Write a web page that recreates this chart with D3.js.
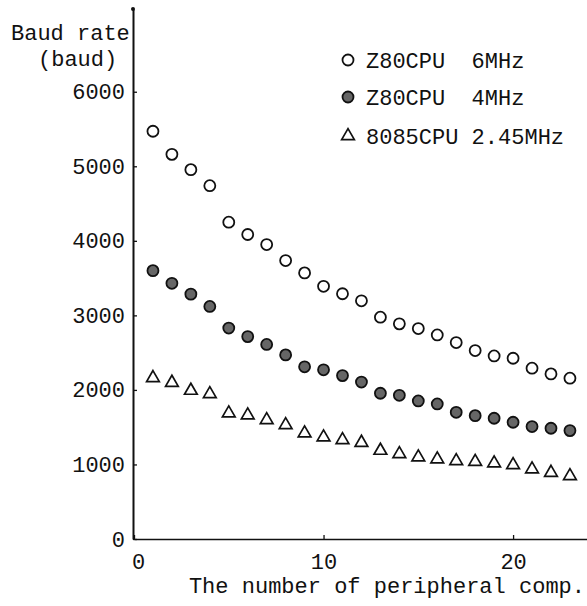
<!DOCTYPE html>
<html>
<head>
<meta charset="utf-8">
<script src="https://cdn.jsdelivr.net/npm/d3@7"></script>
<style>
  html, body { margin: 0; padding: 0; background: #fff; }
  svg text { font-family: "Liberation Mono", "DejaVu Sans Mono", monospace; fill: #111; }
</style>
</head>
<body>
<svg id="chart" width="587" height="606"></svg>
<script>
// ---- data ----
const xValues = [1,2,3,4,5,6,7,8,9,10,11,12,13,14,15,16,17,18,19,20,21,22,23];
const z80_6MHz = [5470,5160,4955,4740,4250,4085,3950,3735,3570,3390,3290,3195,2976,2886,2823,2738,2635,2528,2456,2425,2291,2215,2157];
const z80_4MHz = [3600,3430,3285,3120,2830,2715,2610,2470,2310,2270,2192,2105,1955,1928,1852,1812,1700,1655,1620,1566,1508,1486,1454];
const i8085_245MHz = [2161,2098,1991,1946,1687,1660,1597,1530,1419,1365,1329,1293,1186,1141,1097,1070,1047,1037,1016,993,936,890,846];
const xTicks = [0, 10, 20];
const yTicks = [0, 1000, 2000, 3000, 4000, 5000, 6000];
const legendLabels = ["Z80CPU  6MHz", "Z80CPU  4MHz", "8085CPU 2.45MHz"];

const svg = d3.select("#chart");
const x = d3.scaleLinear().domain([0, 23.9]).range([134, 587]);
const y = d3.scaleLinear().domain([0, 7110]).range([539, 9]);

// x axis
const xAxis = svg.append("g").attr("transform", `translate(0,${y(0)})`)
  .call(d3.axisBottom(x).tickValues(xTicks).tickFormat(d3.format("d")).tickSizeInner(-4).tickSizeOuter(0).tickPadding(14));
xAxis.select(".domain").attr("stroke", "#111").attr("stroke-width", 1.6);
xAxis.selectAll(".tick line").attr("stroke", "#111").attr("stroke-width", 1.3);
xAxis.selectAll(".tick text").attr("font-size", 22).style("font-family", "Liberation Mono, monospace").attr("fill", "#111")
  .attr("dx", d => d === 0 ? 4 : 0);

// y axis
const yAxis = svg.append("g").attr("transform", `translate(${x(0) - 1},0)`)
  .call(d3.axisLeft(y).tickValues(yTicks).tickFormat(d3.format("d")).tickSizeInner(-4).tickSizeOuter(0).tickPadding(8));
yAxis.select(".domain").attr("stroke", "#111").attr("stroke-width", 2);
yAxis.selectAll(".tick line").attr("stroke", "#111").attr("stroke-width", 1.3);
yAxis.selectAll(".tick text").attr("font-size", 22).style("font-family", "Liberation Mono, monospace").attr("fill", "#111");
svg.append("circle").attr("cx", x(0) - 1).attr("cy", y.range()[1]).attr("r", 2).attr("fill", "#111");

// axis titles
svg.append("text").attr("x", 11).attr("y", 40).attr("font-size", 22).text("Baud rate");
svg.append("text").attr("x", 38).attr("y", 66).attr("font-size", 22).text("(baud)");
svg.append("text").attr("x", 585).attr("y", 593).attr("text-anchor", "end").attr("font-size", 22).text("The number of peripheral comp.");

// markers
const tri = d3.symbol().type(d3.symbolTriangle).size(70);
function drawSeries(vals, kind) {
  const g = svg.append("g");
  const data = xValues.map((d, i) => [d, vals[i]]);
  if (kind === "tri") {
    g.selectAll("path").data(data).join("path")
      .attr("d", tri)
      .attr("transform", d => `translate(${x(d[0])},${y(d[1])})`)
      .attr("fill", "#fff").attr("stroke", "#111").attr("stroke-width", 1.7);
  } else {
    g.selectAll("circle").data(data).join("circle")
      .attr("cx", d => x(d[0])).attr("cy", d => y(d[1])).attr("r", 5.5)
      .attr("fill", kind === "filled" ? "#666" : "#fff")
      .attr("stroke", "#111").attr("stroke-width", 1.8);
  }
}
drawSeries(z80_6MHz, "open");
drawSeries(z80_4MHz, "filled");
drawSeries(i8085_245MHz, "tri");

// legend
const legendY = [60, 97, 136];
const kinds = ["open", "filled", "tri"];
legendLabels.forEach((lab, i) => {
  const cy = legendY[i];
  if (kinds[i] === "tri") {
    svg.append("path").attr("d", tri).attr("transform", `translate(348,${cy})`)
      .attr("fill", "#fff").attr("stroke", "#111").attr("stroke-width", 1.7);
  } else {
    svg.append("circle").attr("cx", 348).attr("cy", cy).attr("r", 5.5)
      .attr("fill", kinds[i] === "filled" ? "#666" : "#fff")
      .attr("stroke", "#111").attr("stroke-width", 1.8);
  }
  svg.append("text").attr("x", 366).attr("y", cy).attr("dy", "0.35em")
    .attr("font-size", 22).style("white-space", "pre").attr("xml:space", "preserve").text(lab);
});
</script>
</body>
</html>
